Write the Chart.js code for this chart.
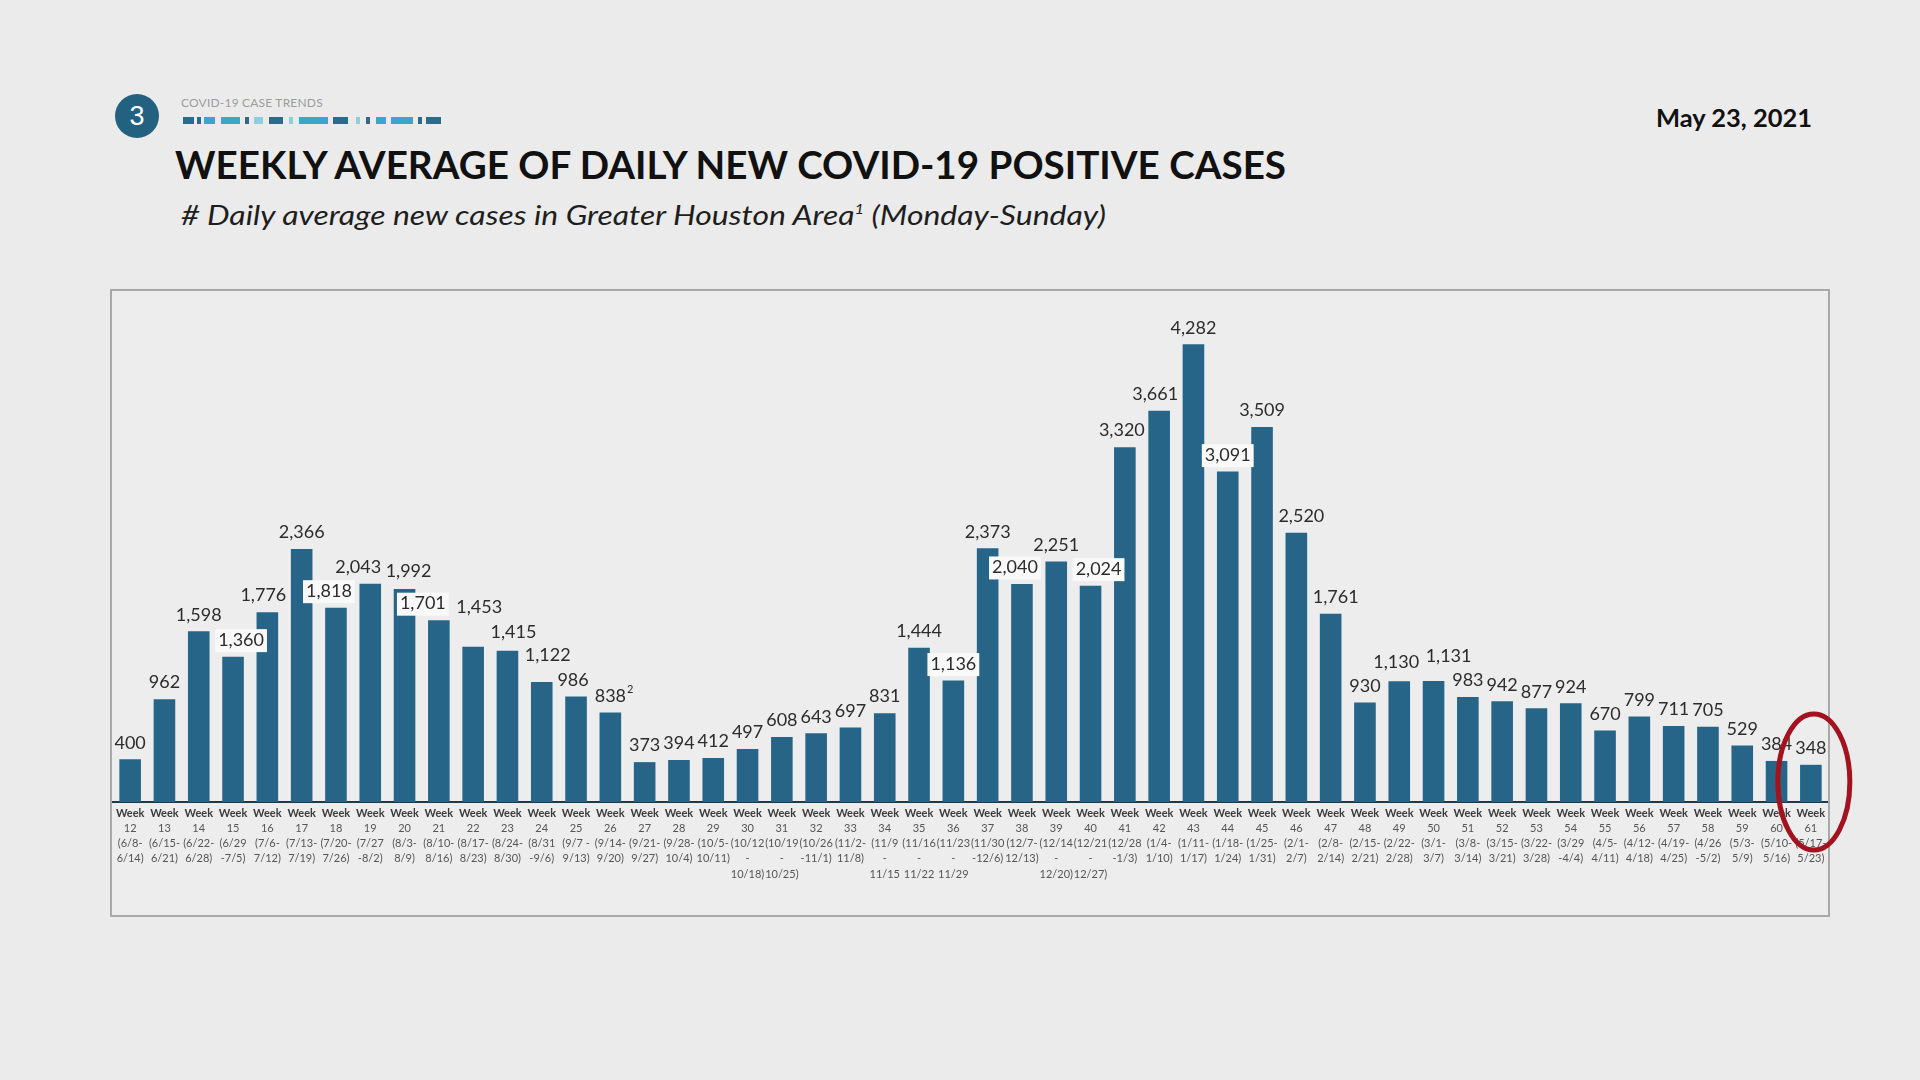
<!DOCTYPE html>
<html>
<head>
<meta charset="utf-8">
<script src="https://cdn.jsdelivr.net/npm/chart.js@4.4.1/dist/chart.umd.min.js"></script>
<style>
  html, body { margin:0; padding:0; }
  body { width:1920px; height:1080px; background:#ebebeb; position:relative; overflow:hidden; font-family:Lato, "Open Sans", sans-serif; }
  .abs { position:absolute; white-space:nowrap; }
  #badge { left:115px; top:94px; width:44px; height:44px; border-radius:50%; background:#22617f; color:#fff; font-family:"Liberation Sans", Arial, sans-serif; font-size:27px; line-height:44px; text-align:center; }
  #kicker { left:181px; top:95px; font-size:12px; color:#9c9c9c; letter-spacing:0.2px; }
  #deco { left:183px; top:117px; height:7px; width:260px; }
  #deco span { position:absolute; top:0; height:7px; }
  #title { left:175px; top:141px; font-size:39px; font-weight:700; color:#111; transform-origin:left top; }
  #subtitle { left:181px; top:198px; font-size:27px; font-style:italic; color:#1e1e1e; transform-origin:left top; }
  #subtitle sup { font-size:14px; vertical-align:top; position:relative; top:2px; }
  #date { left:1656px; top:102px; font-size:25px; font-weight:700; color:#111; transform-origin:left top; }
  #box { position:absolute; left:110px; top:289px; width:1720px; height:628px; box-sizing:border-box; border:2px solid #a9a9a9; background:#ededed; }
  #chart { position:absolute; left:0; top:0; }
  #ring { position:absolute; left:0; top:0; pointer-events:none; }
</style>
</head>
<body>
<div id="badge" class="abs">3</div>
<div id="kicker" class="abs">COVID-19 CASE TRENDS</div>
<div id="deco" class="abs"></div>
<div id="title" class="abs" data-w="1111">WEEKLY AVERAGE OF DAILY NEW COVID-19 POSITIVE CASES</div>
<div id="subtitle" class="abs" data-w="925"># Daily average new cases in Greater Houston Area<sup>1</sup> (Monday-Sunday)</div>
<div id="date" class="abs" data-w="156">May 23, 2021</div>
<div id="box"><canvas id="chart" width="1716" height="624"></canvas></div>
<svg id="ring" width="1920" height="1080"><ellipse id="ell" cx="1814" cy="782" rx="36" ry="68" fill="none" stroke="#a3131f" stroke-width="5"/></svg>
<script>
// ---------- DATA ----------
const weekNumbers = [12,13,14,15,16,17,18,19,20,21,22,23,24,25,26,27,28,29,30,31,32,33,34,35,36,37,38,39,40,41,42,43,44,45,46,47,48,49,50,51,52,53,54,55,56,57,58,59,60,61];
const weekRanges = [
  "(6/8-\n6/14)","(6/15-\n6/21)","(6/22-\n6/28)","(6/29\n-7/5)","(7/6-\n7/12)","(7/13-\n7/19)","(7/20-\n7/26)","(7/27\n-8/2)",
  "(8/3-\n8/9)","(8/10-\n8/16)","(8/17-\n8/23)","(8/24-\n8/30)","(8/31\n-9/6)","(9/7 -\n9/13)","(9/14-\n9/20)","(9/21-\n9/27)",
  "(9/28-\n10/4)","(10/5-\n10/11)","(10/12\n-\n10/18)","(10/19\n-\n10/25)","(10/26\n-11/1)","(11/2-\n11/8)","(11/9\n-\n11/15","(11/16\n-\n11/22",
  "(11/23\n-\n11/29","(11/30\n-12/6)","(12/7-\n12/13)","(12/14\n-\n12/20)","(12/21\n-\n12/27)","(12/28\n-1/3)","(1/4-\n1/10)","(1/11-\n1/17)",
  "(1/18-\n1/24)","(1/25-\n1/31)","(2/1-\n2/7)","(2/8-\n2/14)","(2/15-\n2/21)","(2/22-\n2/28)","(3/1-\n3/7)","(3/8-\n3/14)",
  "(3/15-\n3/21)","(3/22-\n3/28)","(3/29\n-4/4)","(4/5-\n4/11)","(4/12-\n4/18)","(4/19-\n4/25)","(4/26\n-5/2)","(5/3-\n5/9)",
  "(5/10-\n5/16)","(5/17-\n5/23)"
];
const dailyAverageCases = [400,962,1598,1360,1776,2366,1818,2043,1992,1701,1453,1415,1122,986,838,373,394,412,497,608,643,697,831,1444,1136,2373,2040,2251,2024,3320,3661,4282,3091,3509,2520,1761,930,1130,1131,983,942,877,924,670,799,711,705,529,384,348];
const footnoteMarks = {14: "2"};   // superscript after a value label

const categories = weekNumbers.map(n => "Week " + n);

// ---------- label styling (nudges, boxed labels) ----------
const labelNudgeX = {3:8, 4:-4, 6:-7, 7:-12, 8:4, 9:-16, 10:6, 11:6, 12:6, 13:-3, 26:-7, 28:8, 29:-3, 30:-4, 34:5, 35:5, 37:-3, 38:15};
const labelNudgeY = {8:-1, 10:-23, 11:-2, 12:-10, 37:-3, 38:-8};
const boxedLabels = new Set([3,6,9,24,26,28,32]);

// ---------- header deco ----------
const decoSegs = [[0,11,'#2b6a8a'],[14,18,'#2b6a8a'],[21,32,'#3aa6c9'],[38,57,'#3aa6c9'],[62,66,'#2b6a8a'],[71,80,'#8fcfdd'],[86,100,'#2b6a8a'],[106,110,'#8fcfdd'],[116,145,'#3aa6c9'],[150,165,'#2b6a8a'],[173,177,'#8fcfdd'],[183,187,'#2b6a8a'],[193,203,'#3aa6c9'],[208,230,'#3aa6c9'],[235,239,'#2b6a8a'],[243,258,'#2b6a8a']];
const deco = document.getElementById('deco');
decoSegs.forEach(([a,b,c]) => { const s=document.createElement('span'); s.style.left=a+'px'; s.style.width=(b-a)+'px'; s.style.background=c; deco.appendChild(s); });

function fitTexts(){
  document.querySelectorAll('[data-w]').forEach(el => {
    el.style.transform='none';
    const w = el.getBoundingClientRect().width;
    el.style.transform = 'scaleX(' + (parseFloat(el.dataset.w)/w) + ')';
  });
}
fitTexts();

const fmt = v => v.toLocaleString('en-US');

const valueLabels = {
  id:'valueLabels',
  afterDatasetsDraw(chart){
    const ctx = chart.ctx;
    const meta = chart.getDatasetMeta(0);
    ctx.save();
    ctx.font = '18px Lato';
    ctx.textAlign = 'center';
    ctx.textBaseline = 'middle';
    meta.data.forEach((bar, i) => {
      const txt = fmt(dailyAverageCases[i]);
      const x = bar.x + (labelNudgeX[i] || 0);
      const y = bar.y - 16.5 + (labelNudgeY[i] || 0);
      const w = ctx.measureText(txt).width;
      if (boxedLabels.has(i)) {
        ctx.fillStyle = '#f9f9f9';
        ctx.fillRect(x - w/2 - 3, y - 11, w + 6, 23);
      }
      ctx.fillStyle = '#2c2c2c';
      ctx.fillText(txt, x, y);
      if (footnoteMarks[i]) {
        ctx.font = '11px Lato';
        ctx.textAlign = 'left';
        ctx.fillText(footnoteMarks[i], x + w/2 + 1, y - 6);
        ctx.font = '18px Lato';
        ctx.textAlign = 'center';
      }
    });
    ctx.restore();
  }
};

const weekTicks = {
  id:'weekTicks',
  afterDraw(chart){
    const ctx = chart.ctx, xs = chart.scales.x;
    const base = chart.chartArea.bottom;
    ctx.save();
    ctx.textAlign = 'center';
    ctx.textBaseline = 'middle';
    categories.forEach((c, i) => {
      const x = xs.getPixelForValue(i);
      ctx.font = 'bold 11px Lato';
      ctx.fillStyle = '#3b3b3b';
      ctx.fillText('Week', x, base + 11);
      ctx.font = '11px Lato';
      ctx.fillStyle = '#555';
      ctx.fillText(String(weekNumbers[i]), x, base + 26);
      weekRanges[i].split('\n').forEach((ln, k) => ctx.fillText(ln, x, base + 41 + k*15.5));
    });
    ctx.restore();
    // place the highlight ring around the last bar
    const meta = chart.getDatasetMeta(0);
    const last = meta.data[meta.data.length-1];
    const canvasRect = chart.canvas.getBoundingClientRect();
    const ell = document.getElementById('ell');
    ell.setAttribute('cx', canvasRect.left + last.x + 3);
    ell.setAttribute('cy', canvasRect.top + base - 20);
  }
};

new Chart(document.getElementById('chart'), {
  type:'bar',
  data:{ labels:categories, datasets:[{ data:dailyAverageCases, backgroundColor:'#266588', borderWidth:0, barPercentage:0.63, categoryPercentage:1.0 }] },
  options:{
    responsive:false,
    animation:false,
    layout:{ padding:{ top:30, left:1, right:0, bottom:0 } },
    plugins:{ legend:{display:false}, tooltip:{enabled:false} },
    scales:{
      x:{ grid:{display:false}, ticks:{display:false}, border:{display:true, color:'#1e3a46', width:2},
          afterFit(s){ s.height = 113; } },
      y:{ display:false, min:0, max:4500 }
    }
  },
  plugins:[valueLabels, weekTicks]
});
</script>
</body>
</html>
